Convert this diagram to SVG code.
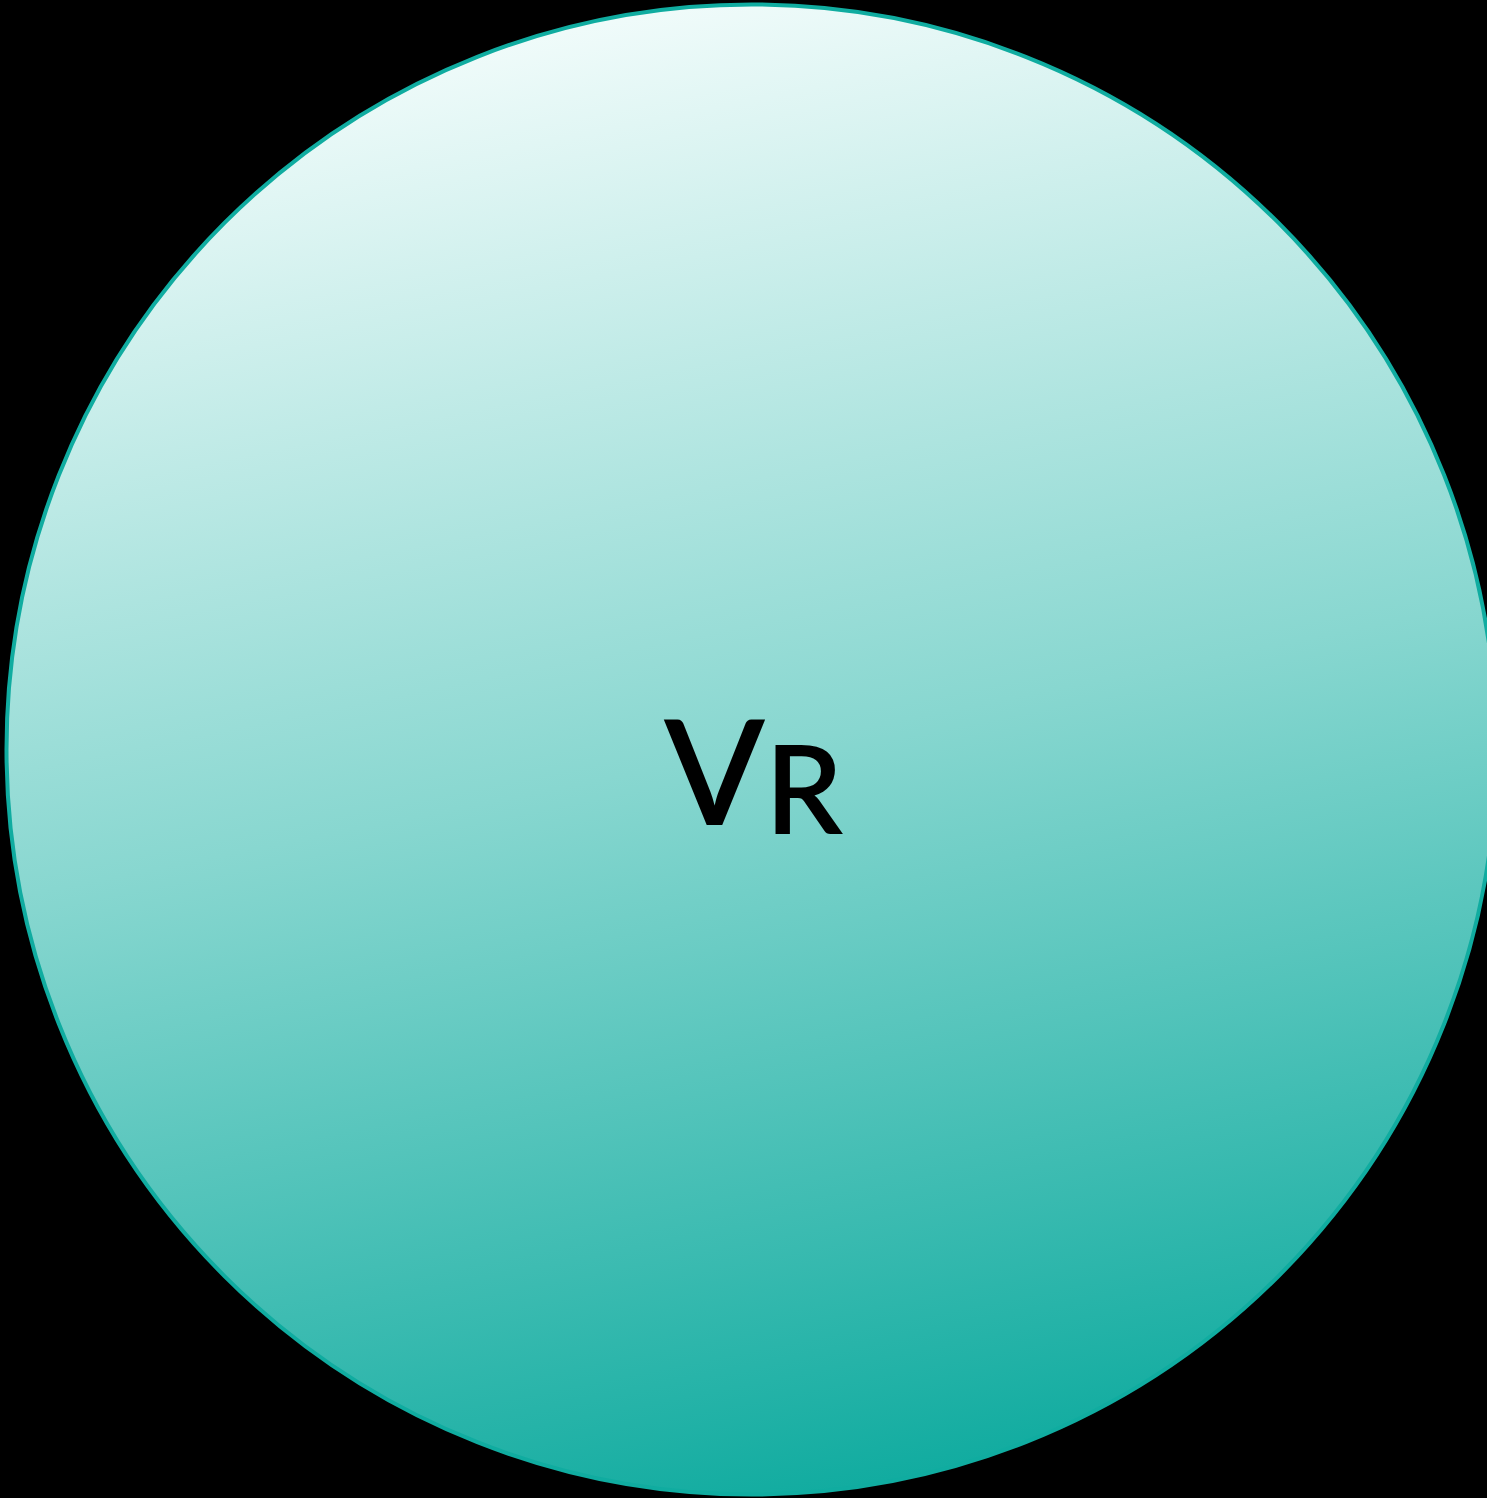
<svg xmlns="http://www.w3.org/2000/svg" width="1487" height="1498" viewBox="0 0 1487 1498">
<defs>
<linearGradient id="g" x1="0.4" y1="0" x2="0.6" y2="1">
<stop offset="0" stop-color="#f2fcfb"/>
<stop offset="0.5" stop-color="#88d7d0"/>
<stop offset="1" stop-color="#0fab9f"/>
</linearGradient>
<style>
.lbl{font-family:Lato,"Open Sans",sans-serif;fill:#000;font-weight:600}
</style>
</defs>
<rect width="1487" height="1498" fill="#000"/>
<g id="node-vr">
<circle cx="751.5" cy="749.5" r="745" fill="url(#g)" stroke="#10aca0" stroke-width="4"/>
<text class="lbl" x="664" y="825" font-size="147">V<tspan font-size="123" dy="9">R</tspan></text>
</g>
<g id="connectors"/>
</svg>
